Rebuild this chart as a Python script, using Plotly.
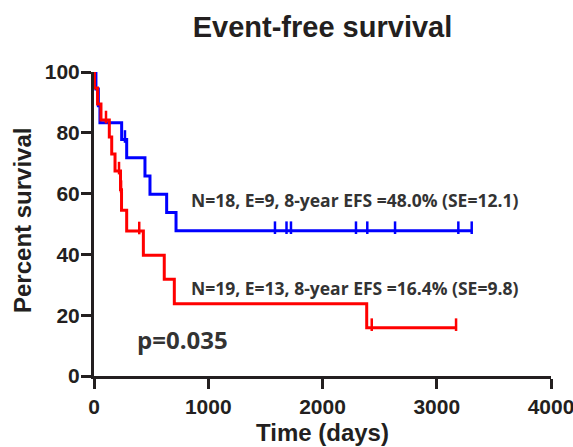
import plotly.graph_objects as go

# ---- data ----
# Blue group (N=18): event times (days) and survival after each event (%)
blue_event_days = [17, 38, 52, 242, 286, 446, 490, 636, 718]
blue_event_surv = [94.4, 88.9, 83.3, 77.8, 71.8, 65.8, 59.8, 53.8, 47.8]
blue_censor_days = [271, 1584, 1685, 1724, 2293, 2392, 2635, 3189, 3306]
blue_censor_surv = [77.8, 47.8, 47.8, 47.8, 47.8, 47.8, 47.8, 47.8, 47.8]

# Red group (N=19)
red_event_days = [4, 31, 61, 134, 155, 184, 232, 241, 286, 432, 615, 703, 2387]
red_event_surv = [94.7, 89.5, 84.2, 78.6, 73.0, 67.4, 61.3, 54.5, 47.7, 39.7, 31.8, 23.8, 15.9]
red_censor_days = [105, 219, 237, 396, 2431, 3169]
red_censor_surv = [84.2, 67.4, 61.3, 47.7, 15.9, 15.9]

x_ticks = [0, 1000, 2000, 3000, 4000]
y_ticks = [0, 20, 40, 60, 80, 100]

title_text = "Event-free survival"
x_title = "Time (days)"
y_title = "Percent survival"
blue_label = "N=18, E=9, 8-year EFS =48.0% (SE=12.1)"
red_label = "N=19, E=13, 8-year EFS =16.4% (SE=9.8)"
p_label = "p=0.035"

BLUE = "#0000FF"
RED = "#FF0000"
AXIS = "#231F20"
W, H = 573, 447
ML, MR, MT, MB = 94, 22, 72, 71
plot_w = W - ML - MR
plot_h = H - MT - MB
tick_offset = 3.0 * 100 / plot_h  # raise censor ticks ~3px above the line


def px_x(px):
    return (px - ML) / plot_w


def px_y(py):
    return (H - MB - py) / plot_h


def step_xy(ev_days, ev_surv, cen_days):
    xs = [0] + list(ev_days)
    ys = [100] + list(ev_surv)
    last = max(cen_days + ev_days)
    if last > xs[-1]:
        xs.append(last)
        ys.append(ys[-1])
    return xs, ys


fig = go.Figure()
for ev_d, ev_s, c_d, c_s, col in [
    (blue_event_days, blue_event_surv, blue_censor_days, blue_censor_surv, BLUE),
    (red_event_days, red_event_surv, red_censor_days, red_censor_surv, RED),
]:
    xs, ys = step_xy(ev_d, ev_s, c_d)
    fig.add_trace(go.Scatter(x=xs, y=ys, mode="lines", line=dict(color=col, width=3, shape="hv"),
                             showlegend=False, hoverinfo="skip"))
    fig.add_trace(go.Scatter(x=c_d, y=[v + tick_offset for v in c_s], mode="markers",
                             marker=dict(symbol="line-ns", size=9, line=dict(color=col, width=2.5)),
                             showlegend=False, hoverinfo="skip", cliponaxis=False))

tick_font = dict(family="Liberation Sans, Arial", size=21, color=AXIS, weight="bold")
title_font = dict(family="Liberation Sans, Arial", size=24, color=AXIS, weight="bold")

fig.update_layout(
    width=W, height=H,
    margin=dict(l=ML, r=MR, t=MT, b=MB, autoexpand=False),
    paper_bgcolor="white", plot_bgcolor="white",
    title=dict(text=title_text, x=0.5, xref="paper", xanchor="center",
               y=1 - 27 / H, yref="container", yanchor="middle",
               font=dict(family="Liberation Sans, Arial", size=29, color=AXIS, weight="bold")),
    xaxis=dict(range=[0, 4000], tickvals=x_ticks, ticktext=[str(v) for v in x_ticks],
               showgrid=False, zeroline=False, showline=True, linecolor=AXIS, linewidth=3,
               ticks="outside", ticklen=10, tickwidth=3, tickcolor=AXIS, tickfont=tick_font,
               automargin=False, ticklabeloverflow="allow"),
    yaxis=dict(range=[0, 100], tickvals=y_ticks, ticktext=[str(v) for v in y_ticks],
               showgrid=False, zeroline=False, showline=True, linecolor=AXIS, linewidth=3,
               ticks="outside", ticklen=10, tickwidth=3, tickcolor=AXIS, tickfont=tick_font,
               automargin=False, ticklabeloverflow="allow", ticklabelstandoff=-3),
)

# axis titles
fig.add_annotation(text=x_title, xref="paper", yref="paper", x=0.5, y=px_y(432),
                   xanchor="center", yanchor="middle", showarrow=False, font=title_font)
fig.add_annotation(text=y_title, xref="paper", yref="paper", x=px_x(22), y=px_y(221),
                   xanchor="center", yanchor="middle", textangle=-90, showarrow=False, font=title_font)

ann_font = dict(family="Open Sans", size=17.5, color="#333333", weight="bold")
fig.add_annotation(text=blue_label, xref="paper", yref="paper", x=px_x(189), y=px_y(200),
                   xanchor="left", yanchor="middle", showarrow=False, font=ann_font)
fig.add_annotation(text=red_label, xref="paper", yref="paper", x=px_x(189), y=px_y(288),
                   xanchor="left", yanchor="middle", showarrow=False, font=ann_font)
fig.add_annotation(text=p_label, xref="paper", yref="paper", x=px_x(135), y=px_y(339),
                   xanchor="left", yanchor="middle", showarrow=False,
                   font=dict(family="Open Sans", size=24, color="#333333", weight="bold"))

fig.write_html("out.html", config={"displayModeBar": False},
               post_script="document.body.style.margin='0';document.body.style.padding='0';")
